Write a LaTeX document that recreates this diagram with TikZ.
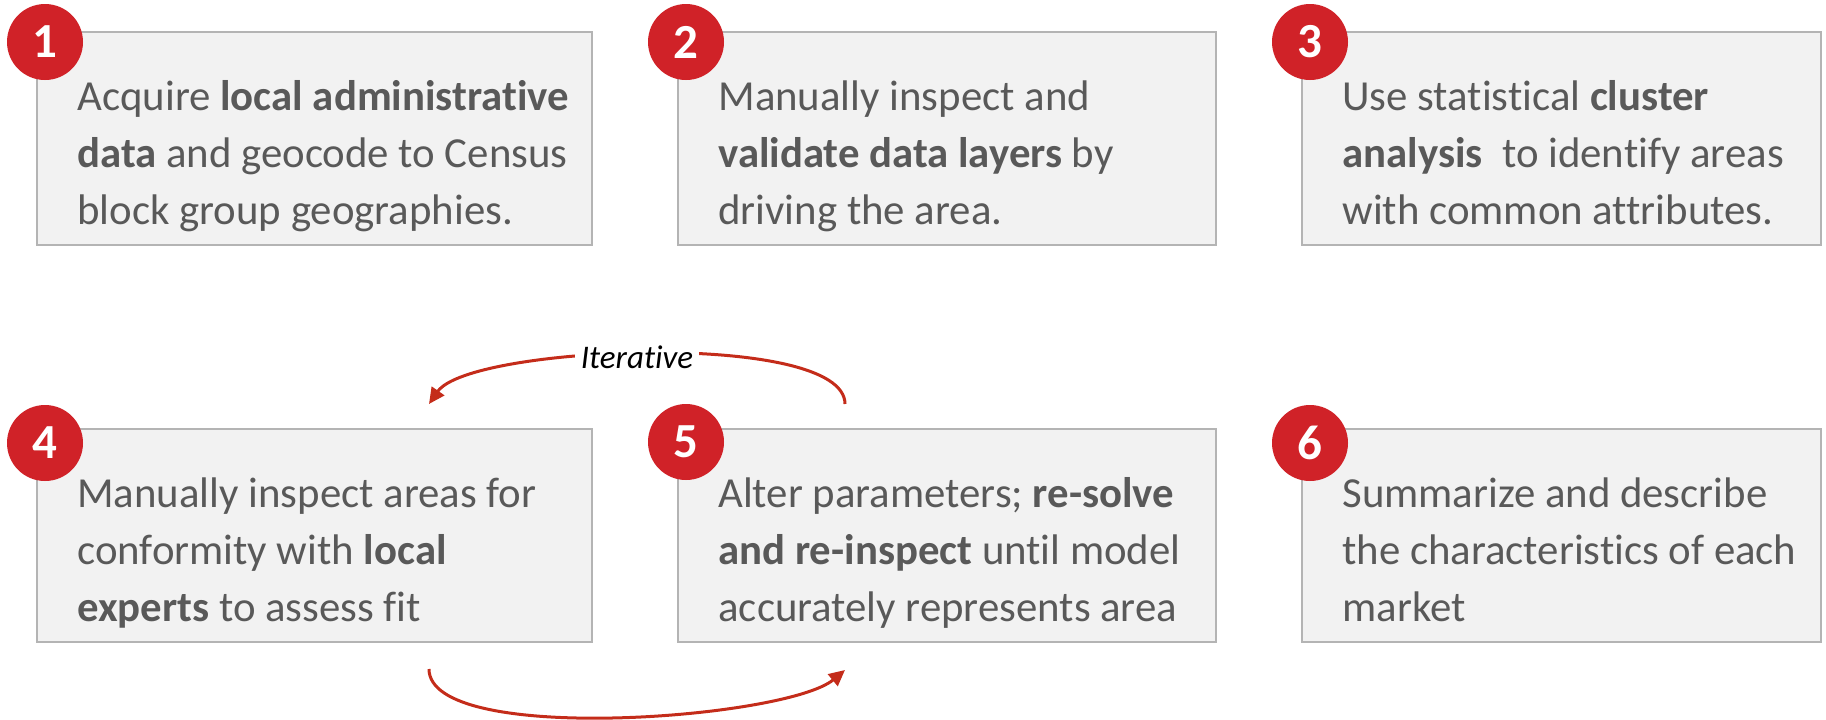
\documentclass[tikz,border=0pt]{standalone}
\usepackage{fontspec}
\setmainfont{Carlito}[Ligatures=NoCommon]
\usepackage{tikz}
\usetikzlibrary{arrows.meta}
\definecolor{boxfill}{RGB}{242,242,242}
\definecolor{boxline}{RGB}{180,180,180}
\definecolor{numred}{RGB}{208,34,40}
\definecolor{arrowred}{RGB}{196,44,26}
\definecolor{textgray}{RGB}{89,89,89}
\tikzset{
  stepbox/.style={draw=boxline,fill=boxfill,line width=1pt,minimum height=106.5pt,inner sep=0pt},
  stepnum/.style={circle,fill=numred,text=white,minimum size=38pt,inner sep=0pt,font=\fontsize{24.5}{28}\selectfont\bfseries},
  steptext/.style={anchor=north west,align=left,inner sep=0pt,text=textgray,font=\fontsize{21.4}{28.5}\selectfont},
  iterarrow/.style={draw=arrowred,line width=1.5pt,-{Triangle[length=8pt,width=7.5pt]}}
}
\begin{document}
\begin{tikzpicture}[x=0.5pt,y=-0.5pt]
\useasboundingbox (0,0) rectangle (1826,719);
% boxes
\node [stepbox,minimum width=277.5pt] (box1) at (314.5,138.5) {};
\node [stepbox,minimum width=269pt] (box2) at (947,138.5) {};
\node [stepbox,minimum width=259.5pt] (box3) at (1561.5,138.5) {};
\node [stepbox,minimum width=277.5pt] (box4) at (314.5,535.5) {};
\node [stepbox,minimum width=269pt] (box5) at (947,535.5) {};
\node [stepbox,minimum width=259.5pt] (box6) at (1561.5,535.5) {};
% texts
\node [steptext] (txt1) at (77,70) {\strut Acquire \textbf{local administrative}\\\textbf{data} and geocode to Census\\block group geographies.};
\node [steptext] (txt2) at (718,70) {\strut Manually inspect and\\\textbf{validate data layers} by\\driving the area.};
\node [steptext] (txt3) at (1342,70) {\strut Use statistical \textbf{cluster}\\\textbf{analysis}\ \ to identify areas\\with common attributes.};
\node [steptext] (txt4) at (77,467) {\strut Manually inspect areas for\\conformity with \textbf{local}\\\textbf{experts} to assess fit};
\node [steptext] (txt5) at (718,467) {\strut Alter parameters; \textbf{re-solve}\\\textbf{and re-inspect} until model\\accurately represents area};
\node [steptext] (txt6) at (1342,467) {\strut Summarize and describe\\the characteristics of each\\market};
% numbers
\node [stepnum] (num1) at (45,42) {1};
\node [stepnum] (num2) at (686,42) {2};
\node [stepnum] (num3) at (1310,42) {3};
\node [stepnum] (num4) at (45,443) {4};
\node [stepnum] (num5) at (686,442) {5};
\node [stepnum] (num6) at (1310,443) {6};
% loop arrows
\coordinate (top5) at (845,404);
\coordinate (top4) at (429,404);
\coordinate (bot4) at (429,669);
\coordinate (bot5) at (845,670);
\draw [iterarrow] (top5) .. controls (845,330) and (470,345) .. (top4);
\draw [iterarrow] (bot4) .. controls (429,746) and (786,719) .. (bot5);
\node [fill=white,inner sep=3pt,font=\fontsize{16.5}{20}\selectfont\itshape] (iter) at (637,357) {Iterative};
\end{tikzpicture}
\end{document}
